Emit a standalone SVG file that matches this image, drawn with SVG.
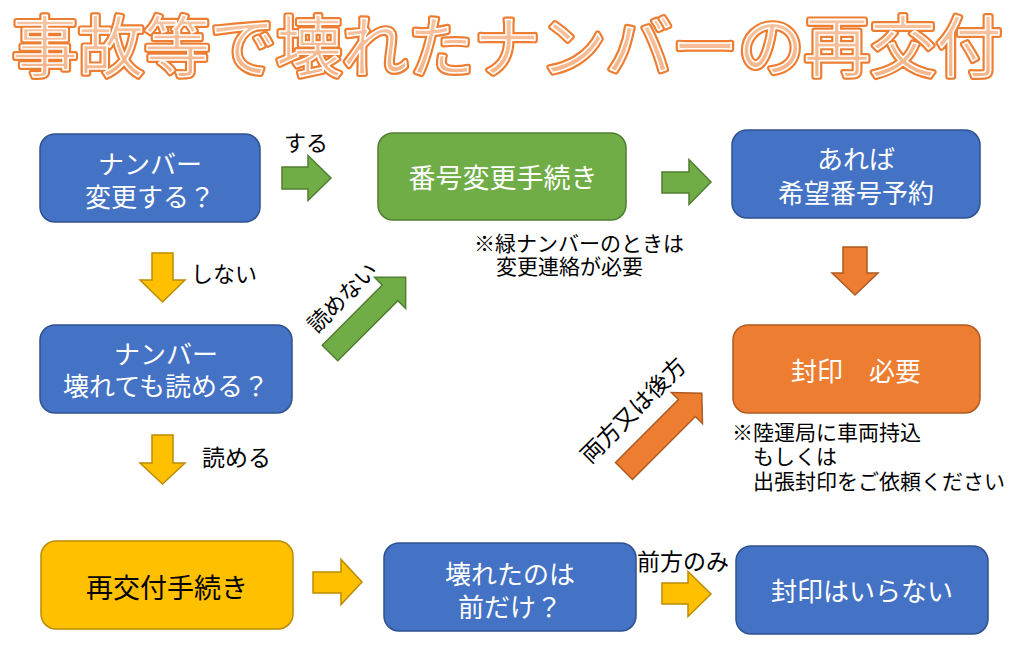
<svg xmlns="http://www.w3.org/2000/svg" width="1035" height="662" viewBox="0 0 1035 662">
<style>
text{font-family:"Noto Sans CJK JP","Noto Sans",sans-serif}
.blue{fill:#4472C4;stroke:#2F528F;stroke-width:1.5}
.green{fill:#70AD47;stroke:#507E32;stroke-width:1.5}
.orange{fill:#ED7D31;stroke:#AE5A21;stroke-width:1.5}
.yellow{fill:#FFC000;stroke:#BC8C00;stroke-width:1.5}
.wt{fill:#fff;font-size:26px;text-anchor:middle}
.bt{fill:#000;font-size:26px;text-anchor:middle}
.lbl{fill:#000;font-size:22px}
.note{fill:#000;font-size:21px}
.t1{font-size:66px;text-anchor:middle;fill:#ED7D31;stroke:#ED7D31;stroke-width:6;stroke-linejoin:round}
.t2{font-size:66px;text-anchor:middle;fill:url(#tg);stroke:#fff;stroke-width:1.6;stroke-linejoin:round}
</style>
<defs>
<linearGradient id="tg" x1="0" y1="0" x2="0" y2="1">
<stop offset="0" stop-color="#F8CBAD"/>
<stop offset="1" stop-color="#F4B183"/>
</linearGradient>
</defs>
<rect width="1035" height="662" fill="#fff"/>
<g id="title">
<text class="t1" x="507" y="71">事故等で壊れたナンバーの再交付</text>
<text class="t2" x="507" y="71">事故等で壊れたナンバーの再交付</text>
</g>
<g id="connectors">
<path class="green" d="M282,167 H308 V155.5 L331,178 L308,200.5 V189 H282 Z"/>
<path class="green" d="M662,172 H689 V159.5 L711,182 L689,204.5 V193 H662 Z"/>
<path class="yellow" d="M152,253 V280 H140 L162.5,302 L185,280 H173 V253 Z"/>
<path class="yellow" d="M152,435 V463 H140 L162.5,484 L185,463 H173 V435 Z"/>
<path class="orange" d="M843,247 V273 H832 L855,295 L878,273 H867 V247 Z"/>
<path class="yellow" d="M313,572 H341 V559.5 L362,582 L341,604.5 V593 H313 Z"/>
<path class="yellow" d="M662,583 H688 V571.5 L711,594 L688,616.5 V604 H662 Z"/>
<path class="green" transform="translate(330,353) rotate(-45)" d="M0,-11 H85 V-22 L107,0 L85,22 V11 H0 Z"/>
<path class="orange" transform="translate(624,471) rotate(-45)" d="M0,-12 H89 V-22 L110,0 L89,22 V12 H0 Z"/>
<text class="lbl" x="284" y="151">する</text>
<text class="lbl" x="191" y="282">しない</text>
<text class="lbl" x="202" y="466" style="font-size:23px">読める</text>
<text class="lbl" x="637" y="570" style="font-size:23px">前方のみ</text>
<text class="lbl" text-anchor="middle" transform="translate(348,303) rotate(-45)">読めない</text>
<text class="lbl" text-anchor="middle" transform="translate(639,416) rotate(-45)" style="font-size:23px">両方又は後方</text>
</g>
<g id="n1">
<rect class="blue" x="40" y="134" width="220" height="88" rx="15"/>
<text class="wt" x="150" y="174">ナンバー</text>
<text class="wt" x="150" y="207">変更する？</text>
</g>
<g id="n2">
<rect class="green" x="378" y="133" width="248" height="87" rx="15"/>
<text class="wt" x="503" y="188" style="font-size:27px">番号変更手続き</text>
</g>
<g id="n3">
<rect class="blue" x="732" y="130" width="248" height="88" rx="15"/>
<text class="wt" x="856" y="169">あれば</text>
<text class="wt" x="856" y="203">希望番号予約</text>
</g>
<g id="note1">
<text class="note" x="474" y="251">※緑ナンバーのときは</text>
<text class="note" x="496" y="274">変更連絡が必要</text>
</g>
<g id="n4">
<rect class="blue" x="40" y="325" width="252" height="88" rx="15"/>
<text class="wt" x="166" y="364">ナンバー</text>
<text class="wt" x="166" y="396">壊れても読める？</text>
</g>
<g id="n5">
<rect class="orange" x="733" y="325" width="247" height="88" rx="15"/>
<text class="wt" x="856" y="381">封印　必要</text>
</g>
<g id="note2">
<text class="note" x="732" y="440">※陸運局に車両持込</text>
<text class="note" x="753" y="464">もしくは</text>
<text class="note" x="753" y="489">出張封印をご依頼ください</text>
</g>
<g id="n6">
<rect class="yellow" x="41" y="541" width="252" height="88" rx="15"/>
<text class="bt" x="167" y="598" style="font-size:27px">再交付手続き</text>
</g>
<g id="n7">
<rect class="blue" x="384" y="543" width="252" height="88" rx="15"/>
<text class="wt" x="510" y="584">壊れたのは</text>
<text class="wt" x="510" y="617">前だけ？</text>
</g>
<g id="n8">
<rect class="blue" x="736" y="546" width="252" height="88" rx="15"/>
<text class="wt" x="862" y="601">封印はいらない</text>
</g>
</svg>
